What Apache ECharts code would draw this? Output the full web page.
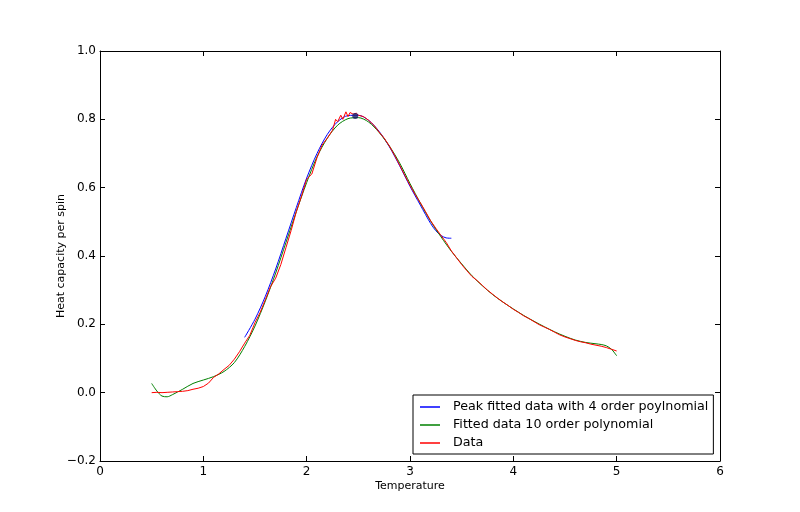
<!DOCTYPE html>
<html>
<head>
<meta charset="utf-8">
<script src="https://cdn.jsdelivr.net/npm/echarts@6/dist/echarts.min.js"></script>
<style>html,body{margin:0;padding:0;background:#fff}#c{width:800px;height:512px}</style>
</head>
<body>
<div id="c"></div>
<script>
// Raw data (temperature, heat capacity per spin)
var dataT = [0.50,0.55,0.60,0.65,0.70,0.75,0.80,0.85,0.90,0.95,1.00,1.05,1.10,1.15,1.20,1.25,1.30,1.35,1.40,1.45,1.50,1.55,1.60,1.65,1.70,1.75,1.80,1.85,1.90,1.95,2.00,2.05,2.10,2.15,2.20,2.25,2.28,2.30,2.33,2.35,2.38,2.40,2.42,2.45,2.48,2.50,2.55,2.60,2.65,2.70,2.75,2.80,2.85,2.90,2.95,3.00,3.05,3.10,3.15,3.20,3.25,3.30,3.35,3.40,3.45,3.50,3.55,3.60,3.65,3.70,3.75,3.80,3.85,3.90,3.95,4.00,4.05,4.10,4.15,4.20,4.25,4.30,4.35,4.40,4.45,4.50,4.55,4.60,4.65,4.70,4.75,4.80,4.85,4.90,4.95,5.00];
var dataC = [0.000,0.001,0.000,0.001,0.002,0.003,0.004,0.006,0.010,0.013,0.018,0.028,0.045,0.055,0.068,0.080,0.098,0.120,0.145,0.168,0.205,0.235,0.272,0.310,0.335,0.375,0.425,0.475,0.530,0.575,0.625,0.640,0.688,0.725,0.745,0.768,0.800,0.793,0.812,0.800,0.822,0.808,0.820,0.815,0.818,0.812,0.808,0.797,0.783,0.763,0.745,0.722,0.695,0.666,0.636,0.607,0.580,0.556,0.530,0.503,0.481,0.460,0.440,0.415,0.395,0.375,0.357,0.340,0.328,0.314,0.300,0.288,0.276,0.265,0.255,0.244,0.235,0.225,0.217,0.208,0.199,0.192,0.185,0.177,0.169,0.163,0.158,0.153,0.149,0.146,0.142,0.139,0.136,0.132,0.127,0.122];
// 10 order polynomial fit
var fit10T = [0.50,0.55,0.60,0.65,0.70,0.80,0.90,1.00,1.10,1.20,1.30,1.40,1.50,1.60,1.70,1.80,1.90,2.00,2.10,2.20,2.30,2.40,2.50,2.60,2.70,2.80,2.90,3.00,3.10,3.20,3.30,3.40,3.50,3.60,3.70,3.80,3.90,4.00,4.10,4.20,4.30,4.40,4.50,4.60,4.70,4.80,4.85,4.90,4.95,5.00];
var fit10C = [0.027,0.005,-0.010,-0.012,-0.006,0.010,0.027,0.037,0.047,0.062,0.088,0.135,0.195,0.268,0.350,0.440,0.530,0.615,0.690,0.745,0.783,0.802,0.805,0.792,0.762,0.722,0.672,0.612,0.555,0.502,0.456,0.414,0.377,0.342,0.313,0.287,0.265,0.245,0.226,0.209,0.193,0.178,0.165,0.154,0.147,0.143,0.141,0.137,0.127,0.108];
// Peak fitted with 4 order polynomial
var peakT = [1.40,1.50,1.60,1.70,1.80,1.90,2.00,2.10,2.20,2.30,2.40,2.50,2.60,2.70,2.80,2.90,3.00,3.10,3.20,3.25,3.30,3.35,3.40];
var peakC = [0.162,0.215,0.282,0.362,0.452,0.542,0.628,0.700,0.756,0.793,0.811,0.812,0.797,0.765,0.720,0.664,0.604,0.549,0.495,0.474,0.460,0.453,0.452];
var peakPoint = [2.47, 0.81];
var xTicks = [0,1,2,3,4,5,6];
var yTicks = [-0.2,0.0,0.2,0.4,0.6,0.8,1.0];

function pairs(xs, ys){ return xs.map(function(x,i){ return [x, ys[i]]; }); }

var font = 'DejaVu Sans';
var chart = echarts.init(document.getElementById('c'), null, {renderer:'canvas'});
var axLine = {show:true, onZero:false, lineStyle:{color:'#000', width:1}};
var tick = {show:true, inside:true, length:5, lineStyle:{color:'#000', width:1}};
chart.setOption({
  animation:false,
  backgroundColor:'#fff',
  grid:{left:100, right:80, top:51, bottom:51, containLabel:false},
  xAxis:[
    {type:'value', min:xTicks[0], max:xTicks[xTicks.length-1], interval:1, position:'bottom',
     name:'Temperature', nameLocation:'middle', nameGap:20, nameMoveOverlap:false,
     nameTextStyle:{fontFamily:font, fontSize:11, color:'#000'},
     axisLine:axLine, axisTick:tick, splitLine:{show:false},
     axisLabel:{fontFamily:font, fontSize:12, color:'#000', margin:5}},
    {type:'value', min:xTicks[0], max:xTicks[xTicks.length-1], interval:1, position:'top',
     axisLine:axLine, axisTick:tick, splitLine:{show:false}, axisLabel:{show:false}}
  ],
  yAxis:[
    {type:'value', min:yTicks[0], max:yTicks[yTicks.length-1], interval:0.2, position:'left',
     name:'Heat capacity per spin', nameLocation:'middle', nameGap:33, nameRotate:90, nameMoveOverlap:false,
     nameTextStyle:{fontFamily:font, fontSize:11, color:'#000'},
     axisLine:axLine, axisTick:tick, splitLine:{show:false},
     axisLabel:{fontFamily:font, fontSize:12, color:'#000', margin:4,
       formatter:function(v){ var s = Math.abs(v).toFixed(1); return (v < -1e-9 ? '\u2212' : '') + s; }}},
    {type:'value', min:yTicks[0], max:yTicks[yTicks.length-1], interval:0.2, position:'right',
     axisLine:axLine, axisTick:tick, splitLine:{show:false}, axisLabel:{show:false}}
  ],
  legend:{
    data:['Peak fitted data with 4 order poylnomial','Fitted data 10 order polynomial','Data'],
    orient:'vertical', left:413, top:395,
    backgroundColor:'#fff', borderColor:'#000', borderWidth:1, borderRadius:0,
    padding:[5,5,4,7], itemGap:4, itemWidth:20, itemHeight:1.5, icon:'rect',
    textStyle:{fontFamily:font, fontSize:12.7, color:'#000', lineHeight:14, padding:[0,0,0,8]}
  },
  series:[
    {name:'Peak fitted data with 4 order poylnomial', type:'line', data:pairs(peakT, peakC), showSymbol:false, smooth:0.3,
     lineStyle:{color:'#0000ff', width:1}, itemStyle:{color:'#0000ff'}, z:2},
    {name:'Fitted data 10 order polynomial', type:'line', data:pairs(fit10T, fit10C), showSymbol:false, smooth:0.3,
     lineStyle:{color:'#008000', width:1}, itemStyle:{color:'#008000'}, z:3},
    {name:'Data', type:'line', data:pairs(dataT, dataC), showSymbol:false,
     lineStyle:{color:'#ff0000', width:1}, itemStyle:{color:'#ff0000'}, z:4},
    {name:'peak', type:'scatter', data:[peakPoint], symbolSize:6,
     itemStyle:{color:'#1a1a66'}, z:5}
  ]
});
</script>
</body>
</html>
